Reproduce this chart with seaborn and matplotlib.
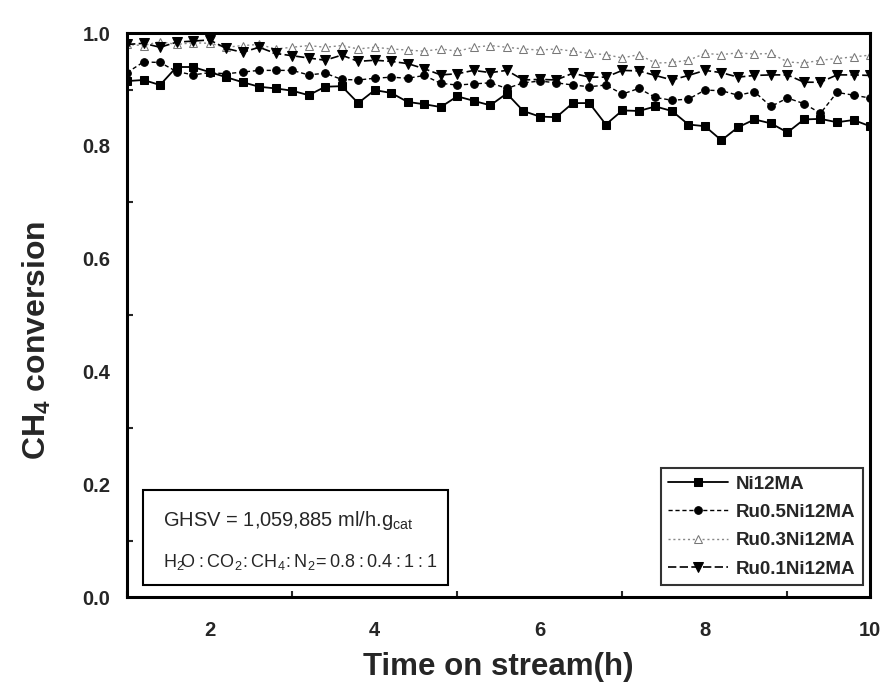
import numpy as np
import pandas as pd
import matplotlib
matplotlib.use("Agg")
import matplotlib.pyplot as plt
import seaborn as sns
from matplotlib.ticker import MultipleLocator

# time on stream (h)
time_h = [1.0, 1.2, 1.4, 1.6, 1.8, 2.0, 2.2, 2.4, 2.6, 2.8,
          3.0, 3.2, 3.4, 3.6, 3.8, 4.0, 4.2, 4.4, 4.6, 4.8,
          5.0, 5.2, 5.4, 5.6, 5.8, 6.0, 6.2, 6.4, 6.6, 6.8,
          7.0, 7.2, 7.4, 7.6, 7.8, 8.0, 8.2, 8.4, 8.6, 8.8,
          9.0, 9.2, 9.4, 9.6, 9.8, 10.0]

ni12ma = [0.915, 0.917, 0.908, 0.940, 0.940, 0.931, 0.922, 0.913, 0.905, 0.902,
          0.898, 0.890, 0.905, 0.906, 0.876, 0.899, 0.894, 0.878, 0.874, 0.869,
          0.888, 0.880, 0.872, 0.893, 0.862, 0.852, 0.851, 0.876, 0.876, 0.838,
          0.863, 0.862, 0.870, 0.862, 0.838, 0.835, 0.810, 0.833, 0.847, 0.840,
          0.824, 0.847, 0.848, 0.842, 0.846, 0.835]

ru05 = [0.930, 0.949, 0.948, 0.932, 0.926, 0.930, 0.928, 0.931, 0.934, 0.934,
        0.934, 0.926, 0.929, 0.918, 0.917, 0.920, 0.922, 0.920, 0.925, 0.911,
        0.908, 0.910, 0.912, 0.902, 0.912, 0.915, 0.912, 0.908, 0.905, 0.908,
        0.892, 0.902, 0.886, 0.881, 0.883, 0.899, 0.898, 0.890, 0.896, 0.870,
        0.885, 0.875, 0.858, 0.895, 0.890, 0.885]

ru03 = [0.980, 0.978, 0.985, 0.980, 0.983, 0.982, 0.975, 0.978, 0.980, 0.972,
        0.975, 0.978, 0.975, 0.978, 0.972, 0.975, 0.972, 0.970, 0.968, 0.972,
        0.968, 0.975, 0.978, 0.975, 0.972, 0.970, 0.972, 0.968, 0.964, 0.962,
        0.956, 0.962, 0.947, 0.948, 0.952, 0.964, 0.962, 0.965, 0.963, 0.964,
        0.949, 0.947, 0.952, 0.955, 0.958, 0.961]

ru01 = [0.980, 0.982, 0.975, 0.984, 0.986, 0.988, 0.973, 0.966, 0.975, 0.964,
        0.960, 0.956, 0.952, 0.961, 0.950, 0.952, 0.950, 0.946, 0.937, 0.926,
        0.928, 0.934, 0.930, 0.934, 0.917, 0.918, 0.917, 0.929, 0.922, 0.922,
        0.934, 0.933, 0.925, 0.917, 0.925, 0.934, 0.930, 0.922, 0.925, 0.926,
        0.926, 0.913, 0.913, 0.926, 0.926, 0.925]

sns.set_style("ticks")
plt.rcParams['font.family'] = ['Liberation Sans', 'DejaVu Sans']
plt.rcParams['mathtext.default'] = 'regular'

fig = plt.figure(figsize=(8.84, 6.91), dpi=100)
ax = fig.add_axes([0.1437, 0.136, 0.8405, 0.816])

sns.lineplot(x=time_h, y=ni12ma, ax=ax, color='black', lw=1.3, ls='-',
             marker='s', markersize=5.5, markeredgecolor='black', label='Ni12MA')
sns.lineplot(x=time_h, y=ru05, ax=ax, color='black', lw=1.0, ls=(0, (3, 2)),
             marker='o', markersize=5.5, markeredgecolor='black', label='Ru0.5Ni12MA')
sns.lineplot(x=time_h, y=ru03, ax=ax, color='#888888', lw=1.0, ls=(0, (1.5, 2)),
             marker='^', markersize=5.5, markerfacecolor='white',
             markeredgecolor='#777777', label='Ru0.3Ni12MA')
sns.lineplot(x=time_h, y=ru01, ax=ax, color='black', lw=1.2, ls=(0, (5, 2)),
             marker='v', markersize=6.5, markeredgecolor='black', label='Ru0.1Ni12MA')

ax.set_xlim(1, 10)
ax.set_ylim(0, 1.0)
ax.xaxis.set_minor_locator(MultipleLocator(1))
ax.yaxis.set_minor_locator(MultipleLocator(0.1))
ax.tick_params(which='major', length=0, labelsize=14.5)
ax.tick_params(which='minor', direction='in', length=4, width=1.5,
               top=False, right=False)
ax.set_xticks([2, 4, 6, 8, 10])
ax.set_yticks([0.0, 0.2, 0.4, 0.6, 0.8, 1.0])
ax.set_yticklabels(['0.0', '0.2', '0.4', '0.6', '0.8', '1.0'])
for lab in ax.get_xticklabels() + ax.get_yticklabels():
    lab.set_fontweight('bold')
ax.tick_params(axis='x', pad=17)
ax.tick_params(axis='y', pad=12)

for s in ax.spines.values():
    s.set_visible(True)
    s.set_linewidth(2.2)
    s.set_color('black')

ax.set_xlabel('Time on stream(h)', fontsize=22.5, fontweight='bold', labelpad=9)
ax.set_ylabel('CH$_4$ conversion', fontsize=23, fontweight='bold')
ax.yaxis.set_label_coords(-0.10, 0.456)

# condition box
ax.text(0.048, 0.136, 'GHSV = 1,059,885 ml/h.g$_{cat}$', transform=ax.transAxes,
        fontsize=14.5, va='center', ha='left')
ratio = ('H$_2\\!$O\u2009:\u2009CO$_2\\!$\u2009:\u2009CH$_4\\!$\u2009:\u2009'
         'N$_2\\!$\u2009=\u20090.8\u2009:\u20090.4\u2009:\u20091\u2009:\u20091')
ax.text(0.048, 0.063, ratio, transform=ax.transAxes, fontsize=13,
        va='center', ha='left')
box = plt.Rectangle((0.0215, 0.021), 0.41, 0.169, transform=ax.transAxes,
                    fill=False, edgecolor='black', lw=1.5)
ax.add_patch(box)

leg = ax.legend(loc='lower right', bbox_to_anchor=(0.99, 0.021), frameon=True,
                fancybox=False, edgecolor='black',
                prop={'size': 13.5, 'weight': 'bold'},
                handlelength=3.2, handletextpad=0.4, borderpad=0.4,
                labelspacing=0.6, borderaxespad=0)
leg.get_frame().set_linewidth(1.5)

fig.savefig('out.png', dpi=100)
